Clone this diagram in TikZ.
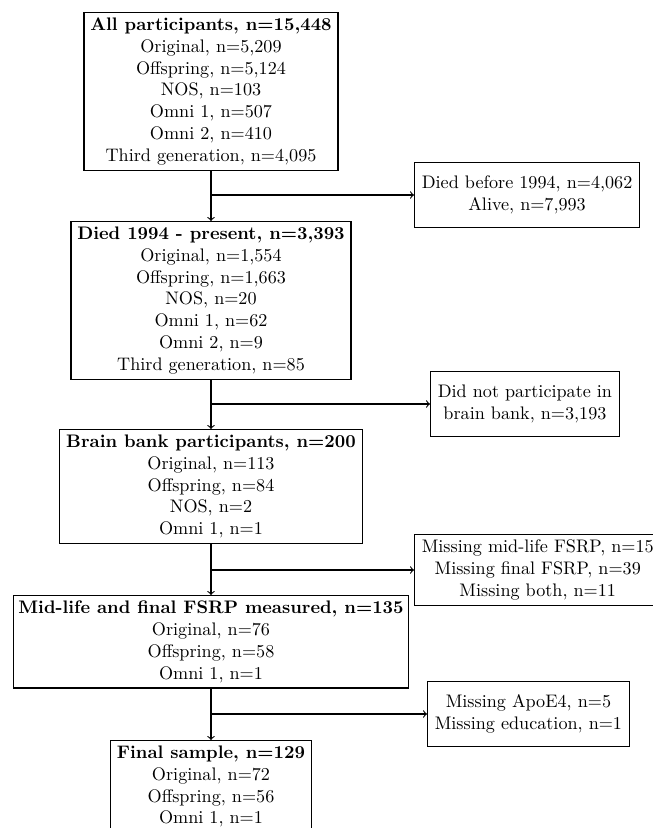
\documentclass[tikz,border=0pt]{standalone}
\usetikzlibrary{calc}
\begin{document}
\begin{tikzpicture}[x=0.551pt,y=-0.551pt,
  mainbox/.style={draw,line width=0.6pt,align=center,inner xsep=3.5pt,inner ysep=3pt,anchor=north,font=\normalsize},
  sidebox/.style={draw,line width=0.6pt,align=center,inner xsep=4pt,inner ysep=3pt,minimum height=36pt,anchor=west},
  conn/.style={->,line width=0.6pt}]
\useasboundingbox (0,0) rectangle (652,828);
\node[mainbox] (b1) at (211,12) {\textbf{All participants, n=15,448}\\Original, n=5,209\\Offspring, n=5,124\\NOS, n=103\\Omni 1, n=507\\Omni 2, n=410\\Third generation, n=4,095};
\node[mainbox] (b2) at (211,221) {\textbf{Died 1994 - present, n=3,393}\\Original, n=1,554\\Offspring, n=1,663\\NOS, n=20\\Omni 1, n=62\\Omni 2, n=9\\Third generation, n=85};
\node[mainbox] (b3) at (211,429) {\textbf{Brain bank participants, n=200}\\Original, n=113\\Offspring, n=84\\NOS, n=2\\Omni 1, n=1};
\node[mainbox,inner xsep=2.5pt] (b4) at (211,595) {\textbf{Mid-life and final FSRP measured, n=135}\\Original, n=76\\Offspring, n=58\\Omni 1, n=1};
\node[mainbox] (b5) at (211,740) {\textbf{Final sample, n=129}\\Original, n=72\\Offspring, n=56\\Omni 1, n=1};
\node[sidebox] (s1) at (414,195) {Died before 1994, n=4,062\\Alive, n=7,993};
\node[sidebox] (s2) at (430,404) {Did not participate in\\brain bank, n=3,193};
\node[sidebox] (s3) at (414,570) {Missing mid-life FSRP, n=15\\Missing final FSRP, n=39\\Missing both, n=11};
\node[sidebox] (s4) at (427,714) {Missing ApoE4, n=5\\Missing education, n=1};
\draw[conn] (b1.south) -- (b2.north);
\draw[conn] (b2.south) -- (b3.north);
\draw[conn] (b3.south) -- (b4.north);
\draw[conn] (b4.south) -- (b5.north);
\draw[conn] (b1.south |- s1.west) -- (s1.west);
\draw[conn] (b2.south |- s2.west) -- (s2.west);
\draw[conn] (b3.south |- s3.west) -- (s3.west);
\draw[conn] (b4.south |- s4.west) -- (s4.west);
\end{tikzpicture}
\end{document}
